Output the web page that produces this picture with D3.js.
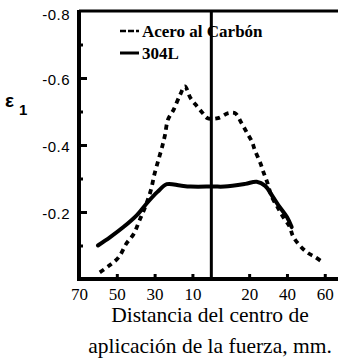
<!DOCTYPE html>
<html>
<head>
<meta charset="utf-8">
<script src="https://cdn.jsdelivr.net/npm/d3@7"></script>
<style>
  html, body { margin: 0; padding: 0; background: #fff; }
  svg { display: block; }
  .serif { font-family: "Times New Roman", Times, Tinos, "Liberation Serif", "Noto Serif", "DejaVu Serif", serif; }
  .sans { font-family: "Liberation Sans", Arial, "DejaVu Sans", sans-serif; }
</style>
</head>
<body>
<script>
// Distance from the load centre in mm (negative = left side of the centre line)
const carbonDist = [-59, -54, -49, -45, -41, -38, -35, -32, -30, -28, -26, -24.5, -23, -20, -16.5, -14, -11, -7.5, -4.5, -2, 3.5, 9, 12.5, 16, 19, 21.5, 23, 26, 27.5, 29.5, 32, 35, 38, 41.5, 43, 46, 50.5, 55, 59];
const carbonStrain = [-0.02, -0.04, -0.065, -0.105, -0.135, -0.175, -0.215, -0.265, -0.315, -0.355, -0.395, -0.43, -0.475, -0.505, -0.55, -0.575, -0.54, -0.515, -0.495, -0.48, -0.48, -0.495, -0.495, -0.465, -0.435, -0.41, -0.385, -0.345, -0.32, -0.29, -0.245, -0.215, -0.185, -0.155, -0.13, -0.105, -0.08, -0.065, -0.05];

const steelDist = [-60, -53.5, -46.5, -39.5, -34, -28.5, -23.5, -16.5, -11, 1, 7, 18, 24, 28.5, 32, 35.5, 40, 42.5];
const steelStrain = [-0.1, -0.125, -0.155, -0.19, -0.227, -0.26, -0.283, -0.279, -0.276, -0.276, -0.276, -0.284, -0.29, -0.278, -0.25, -0.22, -0.185, -0.155];

const seriesNames = ["Acero al Carbón", "304L"];
const yMajorTicks = [-0.8, -0.6, -0.4, -0.2];
const yMinorTicks = [-0.7, -0.5, -0.3, -0.1];
const xTicks = [-70, -50, -30, -10, 20, 40, 60];
const xTitleLines = ["Distancia del centro de", "aplicación de la fuerza, mm."];

const W = 338, H = 360;
const svg = d3.select("body").append("svg").attr("width", W).attr("height", H);

const x = d3.scaleLinear().domain([-70, 67]).range([79, 338]);
const y = d3.scaleLinear().domain([0, -0.8]).range([279, 11]);

const ink = "#000";

// frame: left axis, top edge, bottom axis
svg.append("line").attr("x1", x(-70)).attr("x2", x(-70)).attr("y1", y(-0.8) - 1).attr("y2", y(0) + 2)
  .attr("stroke", ink).attr("stroke-width", 4);
svg.append("line").attr("x1", x(-70)).attr("x2", W).attr("y1", y(-0.8)).attr("y2", y(-0.8))
  .attr("stroke", ink).attr("stroke-width", 3);
svg.append("line").attr("x1", x(-70)).attr("x2", W).attr("y1", y(0)).attr("y2", y(0))
  .attr("stroke", ink).attr("stroke-width", 4);

// centre line at the load application point
svg.append("line").attr("x1", x(0)).attr("x2", x(0)).attr("y1", y(-0.8)).attr("y2", y(0))
  .attr("stroke", ink).attr("stroke-width", 3);

// y axis (ticks point inward)
const yAxis = svg.append("g").attr("transform", `translate(${x(-70)},0)`)
  .call(d3.axisLeft(y).tickValues(yMajorTicks).tickSize(-8).tickPadding(9)
    .tickFormat(d => d.toFixed(1)));
yAxis.attr("font-family", null).attr("font-size", null);
yAxis.select(".domain").remove();
yAxis.selectAll(".tick line").attr("stroke", ink).attr("stroke-width", 3);
yAxis.selectAll(".tick text").attr("class", "sans")
  .attr("font-size", 15).attr("letter-spacing", "0.5px").attr("fill", ink)
  .attr("dy", "0.4em");
yAxis.selectAll(".tick").filter(d => d === -0.8).select("line").remove();
yAxis.selectAll(".tick").filter(d => d === -0.8).select("text").attr("dy", "0.55em");

const yMinor = svg.append("g").attr("transform", `translate(${x(-70)},0)`)
  .call(d3.axisLeft(y).tickValues(yMinorTicks).tickSize(-4).tickFormat(""));
yMinor.select(".domain").remove();
yMinor.selectAll(".tick line").attr("stroke", ink).attr("stroke-width", 3);

// x axis: labels show absolute distance on either side of the centre
const xAxis = svg.append("g").attr("transform", `translate(0,${y(0)})`)
  .call(d3.axisBottom(x).tickValues(xTicks).tickSize(-5).tickPadding(9)
    .tickFormat(d => Math.abs(d)));
xAxis.attr("font-family", null).attr("font-size", null);
xAxis.select(".domain").remove();
xAxis.selectAll(".tick line").attr("stroke", ink).attr("stroke-width", 3);
xAxis.selectAll(".tick text").attr("class", "serif")
  .attr("font-size", 17).attr("fill", ink);

// x title
svg.append("g").selectAll("text").data(xTitleLines).join("text")
  .attr("class", "serif")
  .attr("x", 210).attr("y", (d, i) => 322 + i * 31)
  .attr("text-anchor", "middle")
  .attr("font-size", (d, i) => i ? 21.5 : 21.5).attr("fill", ink)
  .text(d => d);

// y title: ε with subscript
const yt = svg.append("text").attr("class", "sans").attr("x", 5).attr("y", 107)
  .attr("font-weight", "bold").attr("fill", ink);
yt.append("tspan").attr("font-size", 19).text("ε");
yt.append("tspan").attr("font-size", 15).attr("dx", 5).attr("dy", 8).text("1");

// curves
const line = d3.line().x(d => x(d[0])).y(d => y(d[1])).curve(d3.curveCatmullRom.alpha(0.5));
const carbon = carbonDist.map((d, i) => [d, carbonStrain[i]]);
const steel = steelDist.map((d, i) => [d, steelStrain[i]]);

svg.append("path").datum(steel).attr("d", line)
  .attr("fill", "none").attr("stroke", ink).attr("stroke-width", 4)
  .attr("stroke-linejoin", "round").attr("stroke-linecap", "round");
svg.append("path").datum(carbon).attr("d", line)
  .attr("fill", "none").attr("stroke", ink).attr("stroke-width", 3.8)
  .attr("stroke-dasharray", "5,4.5");

// legend
const legend = svg.append("g");
const legRows = [
  { name: seriesNames[0], dash: "6,2", y: 31 },
  { name: seriesNames[1], dash: null, y: 53 }
];
legRows.forEach(r => {
  legend.append("line").attr("x1", 120).attr("x2", 139).attr("y1", r.y).attr("y2", r.y)
    .attr("stroke", ink).attr("stroke-width", r.dash ? 2.5 : 3)
    .attr("stroke-dasharray", r.dash);
  legend.append("text").attr("class", "serif").attr("x", 142).attr("y", r.y + 6)
    .attr("font-weight", "bold").attr("font-size", 17).attr("fill", ink)
    .text(r.name);
});
</script>
</body>
</html>
